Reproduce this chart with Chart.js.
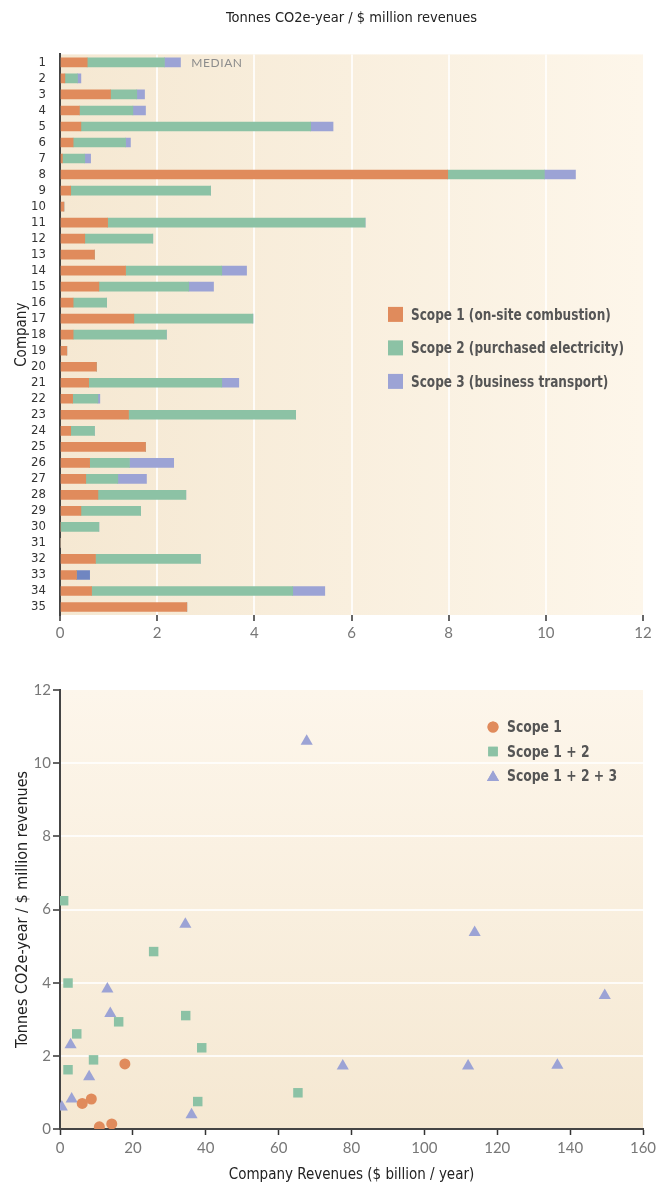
<!DOCTYPE html>
<html>
<head>
<meta charset="utf-8">
<script src="https://cdn.jsdelivr.net/npm/chart.js@4.4.0/dist/chart.umd.min.js"></script>
<style>
  html, body { margin: 0; padding: 0; background: #fff; }
  #wrap { position: relative; width: 665px; height: 1186px; }
  .box { position: absolute; left: 0; width: 665px; }
  #bars-box { top: 0; height: 650px; }
  #scatter-box { top: 660px; height: 526px; }
</style>
</head>
<body>
<div id="wrap">
  <div class="box" id="bars-box"><canvas id="bars" width="665" height="650"></canvas></div>
  <div class="box" id="scatter-box"><canvas id="scatter" width="665" height="526"></canvas></div>
</div>
<script>
// ---- data: tonnes CO2e-year per $ million revenues, by company ----
const companies = ["1","2","3","4","5","6","7","8","9","10","11","12","13","14","15","16","17","18",
  "19","20","21","22","23","24","25","26","27","28","29","30","31","32","33","34","35"];

const scope1 = [0.56, 0.10, 1.04, 0.40, 0.43, 0.27, 0.05, 7.98, 0.22, 0.08, 0.98, 0.51, 0.71, 1.35, 0.80, 0.27, 1.52, 0.27,
  0.14, 0.75, 0.59, 0.26, 1.41, 0.22, 1.76, 0.61, 0.53, 0.78, 0.43, 0, 0, 0.73, 0.34, 0.65, 2.61];
const scope2 = [1.59, 0.26, 0.54, 1.10, 4.73, 1.08, 0.46, 1.99, 2.88, 0, 5.30, 1.40, 0, 1.98, 1.85, 0.69, 2.45, 1.92,
  0, 0, 2.74, 0.52, 3.44, 0.49, 0, 0.82, 0.66, 1.81, 1.23, 0.80, 0, 2.16, 0, 4.14, 0];
const scope3 = [0.33, 0.07, 0.16, 0.26, 0.46, 0.10, 0.12, 0.64, 0, 0, 0, 0, 0, 0.51, 0.51, 0, 0, 0,
  0, 0, 0.35, 0.04, 0, 0, 0, 0.91, 0.59, 0, 0, 0, 0, 0, 0.27, 0.66, 0];

const intensityTicks = [0, 2, 4, 6, 8, 10, 12];
const medianLabel = { text: "MEDIAN", x: 2.7, company: "1" };

// ---- data: intensity vs company revenues ($ billion / year) ----
const scope1Revenue   = [6.1, 8.6, 10.8, 14.2, 17.8];
const scope1Intensity = [0.70, 0.82, 0.06, 0.14, 1.78];

const scope12Revenue   = [1.0, 2.2, 4.6, 2.2, 9.2, 16.1, 25.7, 34.5, 38.9, 37.8, 65.3];
const scope12Intensity = [6.24, 3.99, 2.60, 1.62, 1.89, 2.93, 4.85, 3.10, 2.22, 0.75, 0.99];

const scope123Revenue   = [0.5, 3.2, 2.9, 8.0, 13.0, 13.8, 34.4, 36.1, 67.7, 113.8, 149.5, 77.6, 112.0, 136.5];
const scope123Intensity = [0.60, 0.82, 2.30, 1.43, 3.83, 3.16, 5.60, 0.39, 10.60, 5.37, 3.65, 1.72, 1.72, 1.74];

const revenueTicks = [0, 20, 40, 60, 80, 100, 120, 140, 160];

// ---- look ----
const ORANGE = "#e08b5c";
const GREEN = "#8cc2a5";
const PURPLE = "#9ca3d5";
const DARK_BLUE = "#7086c1";
const NARROW = '"Liberation Sans Narrow", "DejaVu Sans Condensed", sans-serif';
const NUMS = 'Lato, "Open Sans", sans-serif';
const GRID = "rgba(255,255,255,0.8)";

Chart.defaults.animation = false;
Chart.defaults.font.family = NUMS;

const innerGrid = (ctx) =>
  ctx.tick && (ctx.tick.value === 0 || ctx.tick.value === 12 || ctx.tick.value === 160)
    ? "rgba(0,0,0,0)" : GRID;

// squeeze text sideways, the installed condensed face is wider than the original
function narrowText(ctx, text, x, y, squeeze) {
  ctx.save();
  ctx.translate(x, y);
  ctx.scale(squeeze, 1);
  ctx.fillText(text, 0, 0);
  ctx.restore();
}

const paperBackground = {
  id: "paperBackground",
  beforeDraw(chart, args, opts) {
    const { ctx, chartArea: a } = chart;
    const g = opts.vertical
      ? ctx.createLinearGradient(0, a.top, 0, a.bottom)
      : ctx.createLinearGradient(a.left, 0, a.right, 0);
    g.addColorStop(0, opts.from);
    g.addColorStop(1, opts.to);
    ctx.save();
    ctx.fillStyle = g;
    ctx.fillRect(a.left, a.top, a.right - a.left, a.bottom - a.top);
    ctx.restore();
  },
};

// legend drawn inside the plot, right side
const boxLegend = {
  id: "boxLegend",
  afterDraw(chart) {
    const { ctx, chartArea: a } = chart;
    ctx.save();
    ctx.font = "bold 16px " + NARROW;
    ctx.textBaseline = "middle";
    chart.data.datasets.forEach((ds, i) => {
      const y = a.top + 260 + i * 33.5;
      ctx.fillStyle = ds.legendColor;
      ctx.fillRect(a.right - 255, y - 7.5, 15, 15);
      ctx.fillStyle = "#555";
      narrowText(ctx, ds.label, a.right - 232, y + 1, 0.84);
    });
    // median note
    const xs = chart.scales.x, ys = chart.scales.y;
    ctx.font = "12px " + NUMS;
    ctx.fillStyle = "#8c8c8c";
    ctx.letterSpacing = "0.6px";
    ctx.fillText(medianLabel.text, xs.getPixelForValue(medianLabel.x),
      ys.getPixelForValue(companies.indexOf(medianLabel.company)) + 1);
    ctx.restore();
  },
};

const pointLegend = {
  id: "pointLegend",
  afterDraw(chart) {
    const { ctx, chartArea: a } = chart;
    ctx.save();
    ctx.font = "bold 16px " + NARROW;
    ctx.textBaseline = "middle";
    chart.data.datasets.forEach((ds, i) => {
      const y = a.top + 37 + i * 24.5;
      ctx.fillStyle = ds.backgroundColor;
      Chart.helpers.drawPoint(ctx, { pointStyle: ds.pointStyle, radius: ds.pointRadius, borderWidth: 0 },
        a.left + 433, ds.pointStyle === "triangle" ? y + 1.5 : y);
      ctx.fill();
      ctx.fillStyle = "#555";
      narrowText(ctx, ds.label, a.left + 447, y + 1, 0.86);
    });
    ctx.restore();
  },
};

// ---- stacked bars ----
new Chart(document.getElementById("bars"), {
  type: "bar",
  data: {
    labels: companies,
    datasets: [
      { label: "Scope 1 (on-site combustion)", data: scope1, backgroundColor: ORANGE, legendColor: ORANGE },
      { label: "Scope 2 (purchased electricity)", data: scope2, backgroundColor: GREEN, legendColor: GREEN },
      { label: "Scope 3 (business transport)", data: scope3, legendColor: PURPLE,
        backgroundColor: companies.map((c) => (c === "33" ? DARK_BLUE : PURPLE)) },
    ],
  },
  options: {
    indexAxis: "y",
    responsive: false,
    layout: { padding: { right: 22, left: 0, top: 0, bottom: 0 } },
    datasets: { bar: { barThickness: 9, borderWidth: 0 } },
    plugins: {
      legend: { display: false },
      tooltip: { enabled: false },
      title: {
        display: true,
        fullSize: false,
        text: "Tonnes CO2e-year / $ million revenues",
        color: "#222",
        font: { family: NARROW, size: 14.5, weight: "normal" },
        padding: { top: 10, bottom: 27 },
      },
      paperBackground: { from: "#f5e8d2", to: "#fdf6ea" },
    },
    scales: {
      x: {
        stacked: true,
        min: 0,
        max: 12,
        z: 1,
        afterFit: (s) => { s.height = 35; },
        afterBuildTicks: (s) => { s.ticks = intensityTicks.map((v) => ({ value: v })); },
        border: { display: false },
        grid: { color: innerGrid, lineWidth: 2, tickColor: "#333", tickWidth: 1.5, tickLength: 6 },
        ticks: { color: "#777", font: { size: 15 }, padding: 3 },
      },
      y: {
        stacked: true,
        afterFit: (s) => { s.width = 60; },
        border: { color: "#444", width: 2 },
        grid: { display: false },
        ticks: { color: "#333", font: { family: NARROW, size: 13 }, padding: 6, autoSkip: false },
        title: {
          display: true,
          text: "Company",
          color: "#222",
          font: { family: NARROW, size: 15 },
          padding: { top: 13, bottom: 0 },
        },
      },
    },
  },
  plugins: [paperBackground, boxLegend],
});

// ---- scatter ----
const toPoints = (xs, ys) => xs.map((x, i) => ({ x, y: ys[i] }));

new Chart(document.getElementById("scatter"), {
  type: "scatter",
  data: {
    datasets: [
      { label: "Scope 1", data: toPoints(scope1Revenue, scope1Intensity),
        pointStyle: "circle", pointRadius: 5.5, backgroundColor: ORANGE },
      { label: "Scope 1 + 2", data: toPoints(scope12Revenue, scope12Intensity),
        pointStyle: "rect", pointRadius: 6.7, backgroundColor: GREEN },
      { label: "Scope 1 + 2 + 3", data: toPoints(scope123Revenue, scope123Intensity),
        pointStyle: "triangle", pointRadius: 7, backgroundColor: PURPLE },
    ],
  },
  options: {
    responsive: false,
    layout: { padding: { top: 30, right: 22, left: 0, bottom: 0 } },
    elements: { point: { borderWidth: 0, hoverRadius: 6 } },
    plugins: {
      legend: { display: false },
      tooltip: { enabled: false },
      paperBackground: { vertical: true, from: "#fdf6eb", to: "#f5e8d2" },
    },
    scales: {
      x: {
        type: "linear",
        min: 0,
        max: 160,
        afterFit: (s) => { s.height = 57; },
        afterBuildTicks: (s) => { s.ticks = revenueTicks.map((v) => ({ value: v })); },
        border: { color: "#444", width: 2 },
        grid: { drawOnChartArea: false, tickColor: "#333", tickWidth: 1.5, tickLength: 6 },
        ticks: { color: "#777", font: { size: 15 }, padding: 4 },
        title: {
          display: true,
          text: "Company Revenues ($ billion / year)",
          color: "#222",
          font: { family: NARROW, size: 15 },
          padding: { top: 0, bottom: 2 },
        },
      },
      y: {
        min: 0,
        max: 12,
        afterFit: (s) => { s.width = 60; },
        afterBuildTicks: (s) => { s.ticks = intensityTicks.map((v) => ({ value: v })); },
        border: { color: "#444", width: 2 },
        grid: { color: innerGrid, lineWidth: 2, tickColor: "#333", tickWidth: 1.5, tickLength: 7 },
        ticks: { color: "#777", font: { size: 15 }, padding: 2 },
        title: {
          display: true,
          text: "Tonnes CO2e-year / $ million revenues",
          color: "#222",
          font: { family: NARROW, size: 16 },
          padding: { top: 13, bottom: 0 },
        },
      },
    },
  },
  plugins: [paperBackground, pointLegend],
});
</script>
</body>
</html>
